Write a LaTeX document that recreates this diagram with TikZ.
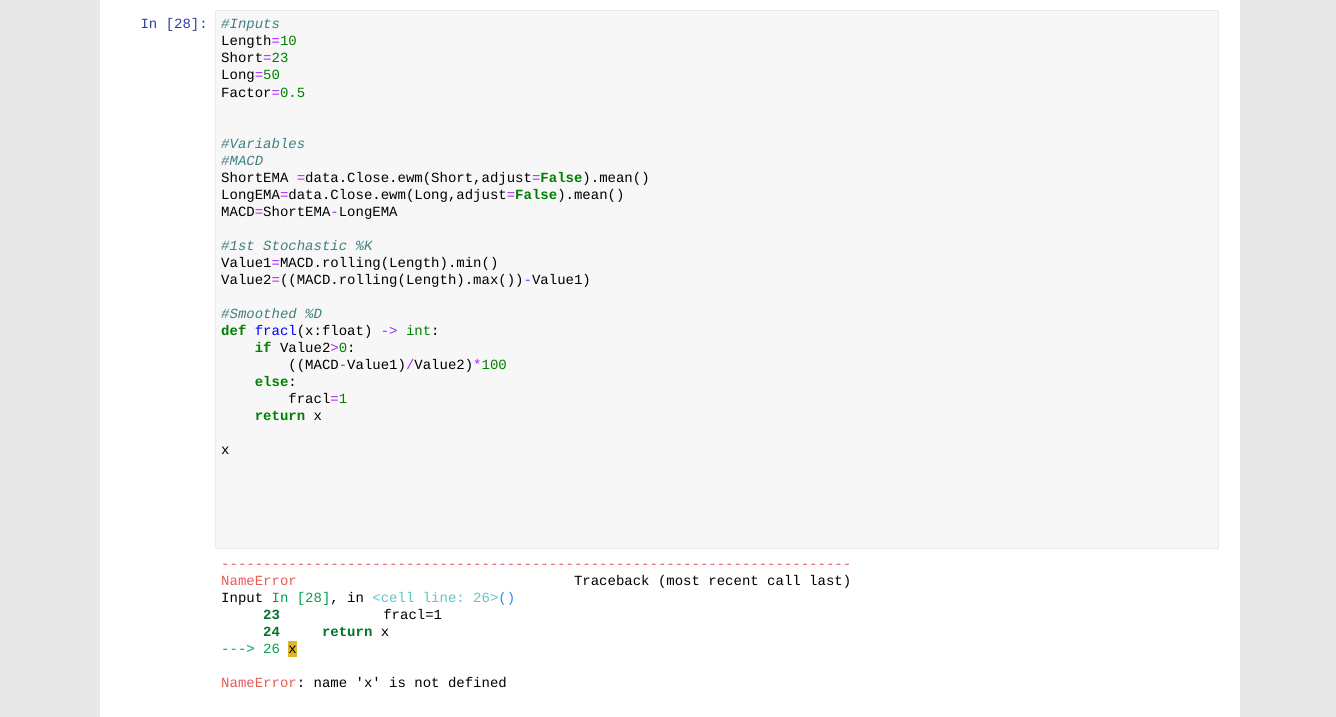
\documentclass[tikz,border=0pt]{standalone}
\usepackage{fontspec}
\setmonofont{Liberation Mono}
\definecolor{bgc}{HTML}{E8E8E8}
\definecolor{cellbg}{HTML}{F7F7F7}
\definecolor{cellbd}{HTML}{CFCFCF}
\definecolor{cmc}{HTML}{408080}
\definecolor{opc}{HTML}{AA22FF}
\definecolor{numc}{HTML}{008000}
\definecolor{kwc}{HTML}{008000}
\definecolor{fnc}{HTML}{0000FF}
\definecolor{promptc}{HTML}{303F9F}
\definecolor{errc}{HTML}{E75C58}
\definecolor{agreen}{HTML}{00A250}
\definecolor{acyan}{HTML}{60C6C8}
\definecolor{ablue}{HTML}{208FFB}
\definecolor{lnc}{HTML}{007427}
\definecolor{hlc}{HTML}{DDB62B}
\newcommand\cm[1]{\textcolor{cmc}{\itshape #1}}
\newcommand\op[1]{\textcolor{opc}{#1}}
\newcommand\nm[1]{\textcolor{numc}{#1}}
\newcommand\kw[1]{\textcolor{kwc}{\bfseries #1}}
\newcommand\fn[1]{\textcolor{fnc}{#1}}
\begin{document}
\begin{tikzpicture}[x=1pt,y=-1pt,
  code/.style={anchor=base west,inner sep=0pt,font=\fontsize{14}{17}\selectfont\ttfamily}]
\fill[bgc] (0,0) rectangle (1336,717);
\fill[white] (100,0) rectangle (1240,717);
\draw[cellbd,fill=cellbg,rounded corners=2pt] (215.5,10.5) rectangle (1218.5,548.5);
\node[code,anchor=base east,text=promptc] (prompt) at (208,29) {In [28]:};
\newcommand\LL[3]{\node[code] at ({221+8.4*#1},{29+17*(#2-1)}) {#3};}
\LL{0}{1}{\cm{\#Inputs}}
\LL{0}{2}{Length\op{=}\nm{10}}
\LL{0}{3}{Short\op{=}\nm{23}}
\LL{0}{4}{Long\op{=}\nm{50}}
\LL{0}{5}{Factor\op{=}\nm{0.5}}
\LL{0}{8}{\cm{\#Variables}}
\LL{0}{9}{\cm{\#MACD}}
\LL{0}{10}{ShortEMA \op{=}data.Close.ewm(Short,adjust\op{=}\kw{False}).mean()}
\LL{0}{11}{LongEMA\op{=}data.Close.ewm(Long,adjust\op{=}\kw{False}).mean()}
\LL{0}{12}{MACD\op{=}ShortEMA\op{-}LongEMA}
\LL{0}{14}{\cm{\#1st Stochastic \%K}}
\LL{0}{15}{Value1\op{=}MACD.rolling(Length).min()}
\LL{0}{16}{Value2\op{=}((MACD.rolling(Length).max())\op{-}Value1)}
\LL{0}{18}{\cm{\#Smoothed \%D}}
\LL{0}{19}{\kw{def} \fn{fracl}(x:float) \op{->} \textcolor{numc}{int}:}
\LL{4}{20}{\kw{if} Value2\op{>}\nm{0}:}
\LL{8}{21}{((MACD\op{-}Value1)\op{/}Value2)\op{*}\nm{100}}
\LL{4}{22}{\kw{else}:}
\LL{8}{23}{fracl\op{=}\nm{1}}
\LL{4}{24}{\kw{return} x}
\LL{0}{26}{x}
% output
\newcommand\OL[3]{\node[code] at ({221+8.4*#1},{568+17*(#2)}) {#3};}
\OL{0}{0}{\textcolor{errc}{---------------------------------------------------------------------------}}
\OL{0}{1}{\textcolor{errc}{NameError}}
\OL{42}{1}{Traceback (most recent call last)}
\OL{0}{2}{Input \textcolor{agreen}{In [28]}, in \textcolor{acyan}{<cell line: 26>}\textcolor{ablue}{()}}
\OL{5}{3}{\textcolor{lnc}{\bfseries 23}}
\OL{19.3}{3}{fracl=1}
\OL{5}{4}{\textcolor{lnc}{\bfseries 24}}
\OL{12}{4}{\textcolor{lnc}{\bfseries return} x}
\fill[hlc] ({221+8.4*8},{568+17*5-12}) rectangle ({221+8.4*9},{568+17*5+4});
\OL{0}{5}{\textcolor{agreen}{---> 26}}
\OL{8}{5}{x}
\OL{0}{7}{\textcolor{errc}{NameError}: name 'x' is not defined}
\end{tikzpicture}
\end{document}
